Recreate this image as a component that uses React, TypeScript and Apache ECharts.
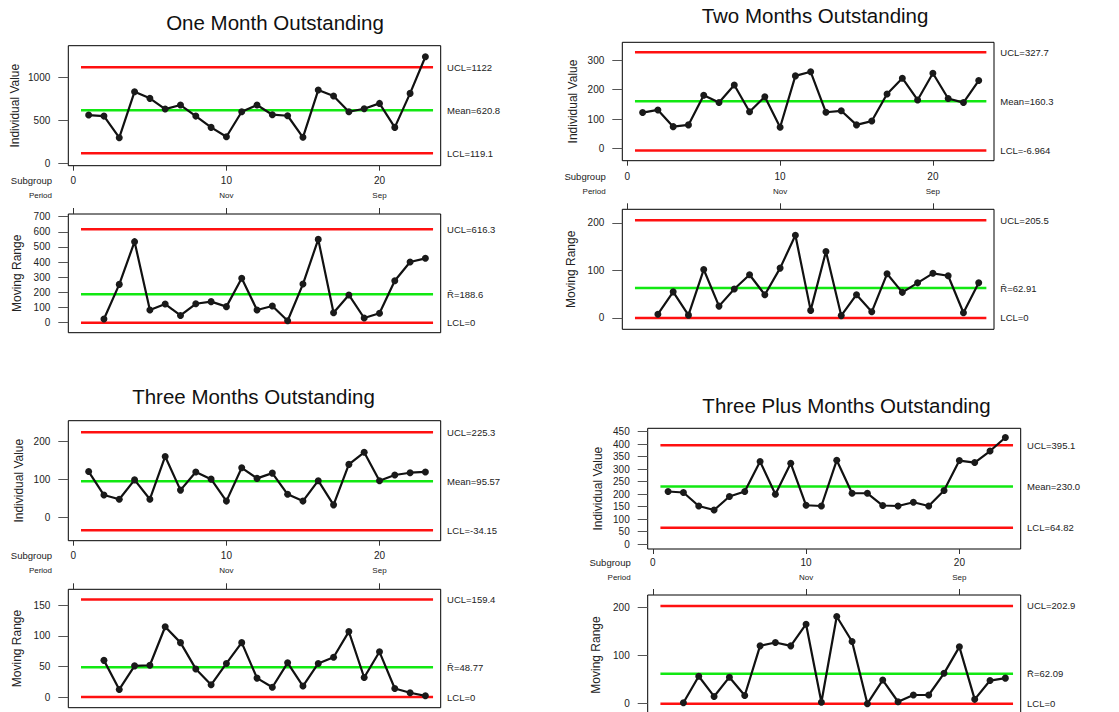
import React, { useEffect, useRef } from "react";
import * as echarts from "echarts";

const FONT = "'Liberation Sans', Arial, sans-serif";
const RED = "#ff1010";
const GREEN = "#12e812";

// ---- shared axis data ----
const subgroupTicks = [0, 10, 20];
const periodTicks = [10, 20];
const periodLabels = ["Nov", "Sep"];
const limitStart = 0.5;
const limitEnd = 23.5;

// ---- One Month Outstanding ----
const oneMonthValues = [564, 552, 300, 837, 759, 634, 681, 552, 420, 311, 603, 681, 568, 556, 304, 856, 786, 603, 638, 700, 420, 817, 1245];
const oneMonthRanges = [24, 253, 535, 84, 123, 48, 125, 139, 106, 293, 84, 110, 13, 255, 550, 66, 183, 31, 62, 277, 401, 425];
const oneMonthLimits = [1122, 620.8, 119.1];
const oneMonthLimitText = ["UCL=1122", "Mean=620.8", "LCL=119.1"];
const oneMonthRangeLimits = [616.3, 188.6, 0];
const oneMonthRangeText = ["UCL=616.3", "R\u0304=188.6", "LCL=0"];
const oneMonthValueTicks = [0, 500, 1000];
const oneMonthRangeTicks = [0, 100, 200, 300, 400, 500, 600, 700];

// ---- Two Months Outstanding ----
const twoMonthValues = [122, 131, 74, 80, 181, 156, 216, 125, 176, 72, 247, 261, 123, 128, 80, 93, 185, 239, 165, 256, 170, 156, 231];
const twoMonthRanges = [8, 55, 6, 102, 25, 61, 91, 49, 105, 174, 16, 140, 5, 49, 13, 93, 54, 74, 94, 89, 11, 74];
const twoMonthLimits = [327.7, 160.3, -6.964];
const twoMonthLimitText = ["UCL=327.7", "Mean=160.3", "LCL=-6.964"];
const twoMonthRangeLimits = [205.5, 62.91, 0];
const twoMonthRangeText = ["UCL=205.5", "R\u0304=62.91", "LCL=0"];
const twoMonthValueTicks = [0, 100, 200, 300];
const twoMonthRangeTicks = [0, 100, 200];

// ---- Three Months Outstanding ----
const threeMonthValues = [121, 59, 48, 99, 48, 161, 72, 120, 101, 43, 131, 103, 117, 61, 43, 97, 33, 140, 172, 97, 112, 118, 120];
const threeMonthRanges = [60, 12.5, 51, 52, 115, 89, 46, 20, 55, 89, 31, 16, 56, 18, 55, 65, 107, 32, 74, 14, 7, 2];
const threeMonthLimits = [225.3, 95.57, -34.15];
const threeMonthLimitText = ["UCL=225.3", "Mean=95.57", "LCL=-34.15"];
const threeMonthRangeLimits = [159.4, 48.77, 0];
const threeMonthRangeText = ["UCL=159.4", "R\u0304=48.77", "LCL=0"];
const threeMonthValueTicks = [0, 100, 200];
const threeMonthRangeTicks = [0, 50, 100, 150];

// ---- Three Plus Months Outstanding ----
const threePlusValues = [210, 206, 152, 136, 190, 210, 330, 199, 323, 155, 152, 335, 203, 203, 154, 152, 167, 152, 214, 334, 326, 372, 426];
const threePlusRanges = [2, 57, 15, 55, 17, 120, 127, 120, 165, 3, 181, 129, 0, 49, 4, 18, 18, 63, 118, 9, 48, 53];
const threePlusLimits = [395.1, 230.0, 64.82];
const threePlusLimitText = ["UCL=395.1", "Mean=230.0", "LCL=64.82"];
const threePlusRangeLimits = [202.9, 62.09, 0];
const threePlusRangeText = ["UCL=202.9", "R\u0304=62.09", "LCL=0"];
const threePlusValueTicks = [0, 50, 100, 150, 200, 250, 300, 350, 400, 450];
const threePlusRangeTicks = [0, 100, 200];

const titles = ["One Month Outstanding", "Two Months Outstanding", "Three Months Outstanding", "Three Plus Months Outstanding"];

// ---- layout (positions / scales only) ----
const X_MIN = -0.33;
const X_MAX = 24.0;
const layouts = [
  {
    title: { x: 275, y: 22.7 },
    ind: { left: 68.3, top: 45.7, width: 372.4, height: 120, min: -27, max: 1373.5, nameGap: 47 },
    mr: { left: 68.3, top: 214, width: 372.4, height: 118.7, min: -66, max: 717.6, nameGap: 45 },
    xLabelMargin: 9,
    subgroup: { x: 52, y: 180.7 },
    period: { x: 52, y: 195 },
  },
  {
    title: { x: 815, y: 15 },
    ind: { left: 622.3, top: 42.3, width: 371.7, height: 118.4, min: -42, max: 361.4, nameGap: 43 },
    mr: { left: 622.3, top: 209.3, width: 371.7, height: 120, min: -23.8, max: 228.8, nameGap: 45 },
    xLabelMargin: 10,
    subgroup: { x: 605.7, y: 176.7 },
    period: { x: 605.7, y: 191 },
  },
  {
    title: { x: 253.5, y: 396 },
    ind: { left: 68.3, top: 420.7, width: 372.4, height: 120, min: -61.7, max: 255.5, nameGap: 43 },
    mr: { left: 68.3, top: 589.3, width: 372.4, height: 118.4, min: -17.4, max: 176.2, nameGap: 45 },
    xLabelMargin: 9,
    subgroup: { x: 52, y: 555.7 },
    period: { x: 52, y: 570 },
  },
  {
    title: { x: 846.5, y: 405 },
    ind: { left: 647.7, top: 428.3, width: 373, height: 120.7, min: -20, max: 463, nameGap: 43.5 },
    mr: { left: 647.7, top: 595, width: 373, height: 120, min: -23.5, max: 225.6, nameGap: 45.5 },
    xLabelMargin: 7.5,
    subgroup: { x: 630.7, y: 562.3 },
    period: { x: 630.7, y: 577.3 },
  },
];

const panels = [
  { values: oneMonthValues, ranges: oneMonthRanges, limits: oneMonthLimits, limitText: oneMonthLimitText, rangeLimits: oneMonthRangeLimits, rangeText: oneMonthRangeText, valueTicks: oneMonthValueTicks, rangeTicks: oneMonthRangeTicks },
  { values: twoMonthValues, ranges: twoMonthRanges, limits: twoMonthLimits, limitText: twoMonthLimitText, rangeLimits: twoMonthRangeLimits, rangeText: twoMonthRangeText, valueTicks: twoMonthValueTicks, rangeTicks: twoMonthRangeTicks },
  { values: threeMonthValues, ranges: threeMonthRanges, limits: threeMonthLimits, limitText: threeMonthLimitText, rangeLimits: threeMonthRangeLimits, rangeText: threeMonthRangeText, valueTicks: threeMonthValueTicks, rangeTicks: threeMonthRangeTicks },
  { values: threePlusValues, ranges: threePlusRanges, limits: threePlusLimits, limitText: threePlusLimitText, rangeLimits: threePlusRangeLimits, rangeText: threePlusRangeText, valueTicks: threePlusValueTicks, rangeTicks: threePlusRangeTicks },
];

function buildOption() {
  const grid: any[] = [];
  const xAxis: any[] = [];
  const yAxis: any[] = [];
  const series: any[] = [];
  const graphic: any[] = [];

  panels.forEach((p, k) => {
    const L = layouts[k];
    const gi = k * 2;
    const gm = k * 2 + 1;

    [L.ind, L.mr].forEach((g) => {
      grid.push({
        left: g.left,
        top: g.top,
        width: g.width,
        height: g.height,
        show: true,
        borderColor: "#000",
        borderWidth: 1,
        backgroundColor: "transparent",
        containLabel: false,
        outerBoundsMode: "none",
      });
    });

    // x axes
    xAxis.push({
      gridIndex: gi,
      type: "value",
      min: X_MIN,
      max: X_MAX,
      position: "bottom",
      axisLine: { show: false, onZero: false },
      splitLine: { show: false },
      axisTick: { show: true, customValues: subgroupTicks, length: 5, lineStyle: { color: "#333" } },
      axisLabel: {
        show: true,
        customValues: subgroupTicks,
        margin: L.xLabelMargin,
        fontSize: 10,
        lineHeight: 12,
        color: "#222",
        fontFamily: FONT,
        formatter: (v: number) => {
          const idx = periodTicks.indexOf(v);
          return idx >= 0 ? `${v}\n{p|${periodLabels[idx]}}` : `${v}`;
        },
        rich: { p: { fontSize: 8, lineHeight: 17, color: "#222", fontFamily: FONT } },
      },
    });
    xAxis.push({
      gridIndex: gm,
      type: "value",
      min: X_MIN,
      max: X_MAX,
      position: "top",
      axisLine: { show: false, onZero: false },
      splitLine: { show: false },
      axisTick: { show: true, customValues: subgroupTicks, length: 6, lineStyle: { color: "#333" } },
      axisLabel: { show: false },
    });

    // y axes
    const yCommon = {
      type: "value",
      nameLocation: "middle",
      nameRotate: 90,
      nameTextStyle: { fontSize: 12, color: "#222", fontFamily: FONT },
      axisLine: { show: false, onZero: false },
      splitLine: { show: false },
    };
    const plain = (v: number) => String(v);
    yAxis.push({
      ...yCommon,
      gridIndex: gi,
      min: L.ind.min,
      max: L.ind.max,
      name: "Individual Value",
      nameGap: L.ind.nameGap,
      axisTick: { show: true, customValues: p.valueTicks, length: 10, lineStyle: { color: "#555" } },
      axisLabel: { customValues: p.valueTicks, margin: 18, fontSize: 10, color: "#222", fontFamily: FONT, formatter: plain },
    });
    yAxis.push({
      ...yCommon,
      gridIndex: gm,
      min: L.mr.min,
      max: L.mr.max,
      name: "Moving Range",
      nameGap: L.mr.nameGap,
      axisTick: { show: true, customValues: p.rangeTicks, length: 10, lineStyle: { color: "#555" } },
      axisLabel: { customValues: p.rangeTicks, margin: 18, fontSize: 10, color: "#222", fontFamily: FONT, formatter: plain },
    });

    // control lines
    const addLimits = (idx: number, limits: number[], texts: string[]) => {
      limits.forEach((lv, j) => {
        series.push({
          type: "line",
          xAxisIndex: idx,
          yAxisIndex: idx,
          data: [
            [limitStart, lv],
            [limitEnd, lv],
          ],
          symbol: "none",
          silent: true,
          z: 1,
          lineStyle: { color: j === 1 ? GREEN : RED, width: 2.5 },
          endLabel: {
            show: true,
            formatter: texts[j],
            distance: 14,
            color: "#222",
            fontSize: 9.5,
            fontFamily: FONT,
          },
        });
      });
    };
    addLimits(gi, p.limits, p.limitText);
    addLimits(gm, p.rangeLimits, p.rangeText);

    // data
    series.push({
      type: "line",
      xAxisIndex: gi,
      yAxisIndex: gi,
      data: p.values.map((v, i) => [i + 1, v]),
      symbol: "circle",
      symbolSize: 7,
      z: 3,
      lineStyle: { color: "#111", width: 2.2 },
      itemStyle: { color: "#1a1a1a" },
    });
    series.push({
      type: "line",
      xAxisIndex: gm,
      yAxisIndex: gm,
      data: p.ranges.map((v, i) => [i + 2, v]),
      symbol: "circle",
      symbolSize: 7,
      z: 3,
      lineStyle: { color: "#111", width: 2.2 },
      itemStyle: { color: "#1a1a1a" },
    });

    graphic.push({
      type: "text",
      x: L.title.x,
      y: L.title.y,
      style: { text: titles[k], align: "center", verticalAlign: "middle", fontSize: 20.5, fontFamily: FONT, fill: "#111" },
    });
    graphic.push({
      type: "text",
      x: L.subgroup.x,
      y: L.subgroup.y,
      style: { text: "Subgroup", align: "right", verticalAlign: "middle", fontSize: 9.5, fontFamily: FONT, fill: "#222" },
    });
    graphic.push({
      type: "text",
      x: L.period.x,
      y: L.period.y,
      style: { text: "Period", align: "right", verticalAlign: "middle", fontSize: 8, fontFamily: FONT, fill: "#222" },
    });
  });

  return {
    animation: false,
    backgroundColor: "#fff",
    textStyle: { fontFamily: FONT },
    grid,
    xAxis,
    yAxis,
    series,
    graphic,
  };
}

export default function App() {
  const ref = useRef<HTMLDivElement>(null);
  useEffect(() => {
    if (!ref.current) return;
    const chart = echarts.init(ref.current, undefined, { renderer: "svg" });
    chart.setOption(buildOption() as any);
    return () => chart.dispose();
  }, []);
  return <div ref={ref} style={{ position: "fixed", left: 0, top: 0, width: 1119, height: 712 }} />;
}
